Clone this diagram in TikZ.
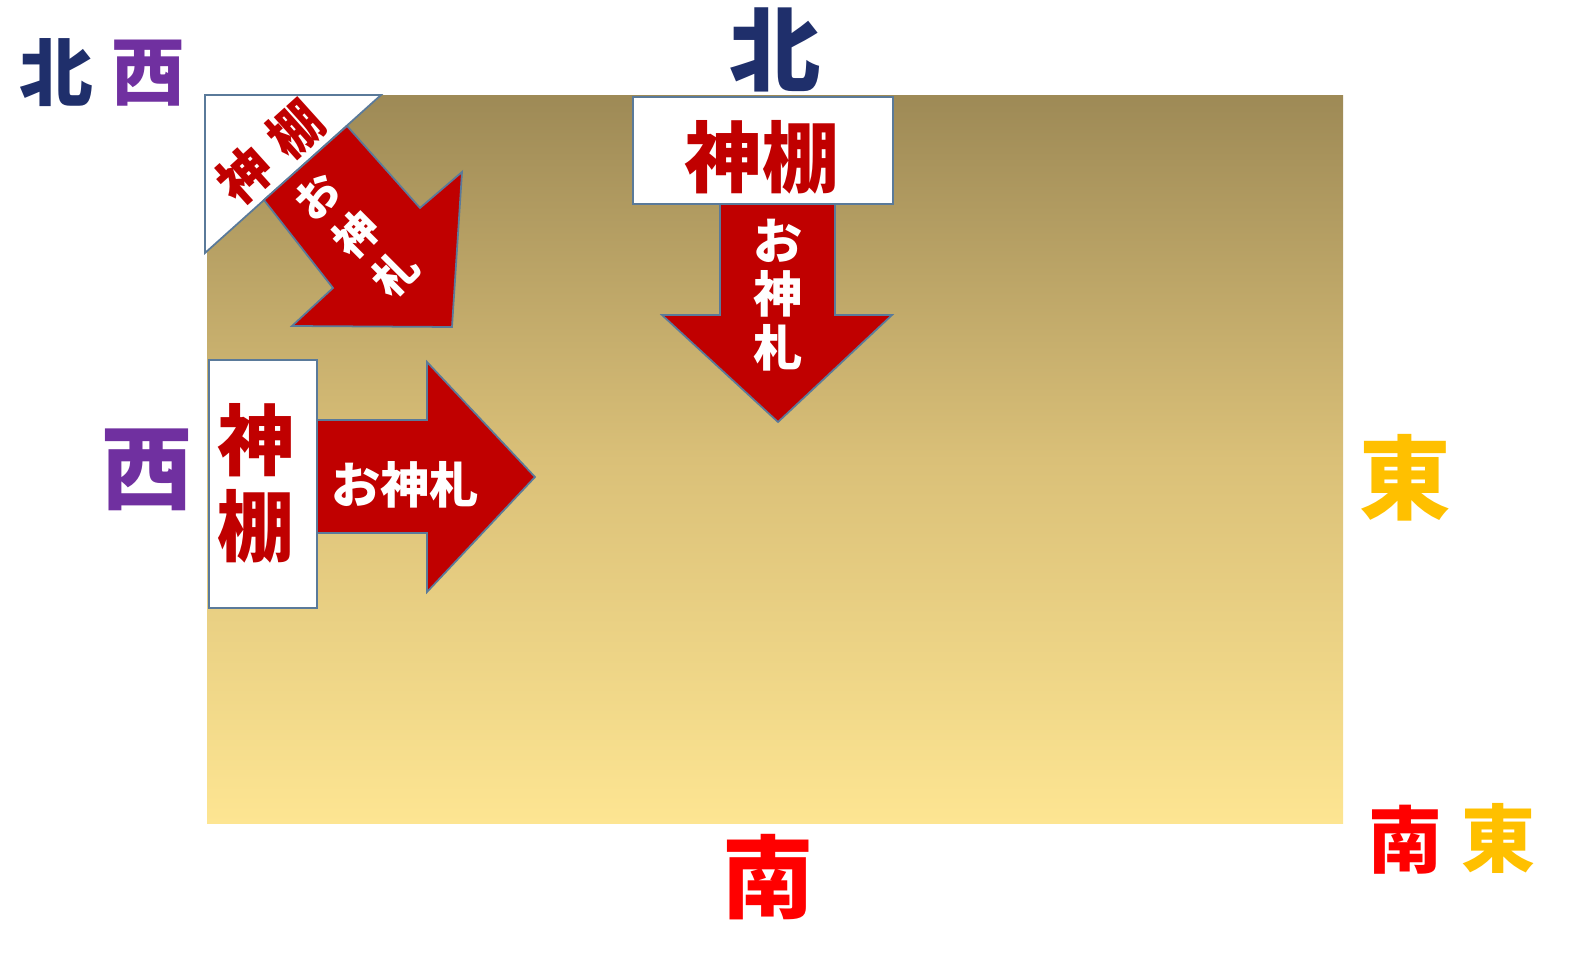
\documentclass[tikz,border=0pt]{standalone}
\usepackage{fontspec}
\newfontfamily\jp{Noto Sans CJK JP}
\definecolor{navy}{HTML}{1F2F6B}
\definecolor{westpurple}{HTML}{7030A0}
\definecolor{eastgold}{HTML}{FFC000}
\definecolor{southred}{HTML}{FF0000}
\definecolor{shelfred}{HTML}{C00000}
\definecolor{arrowred}{HTML}{C00000}
\definecolor{edge}{HTML}{5A7A9A}
\definecolor{goldtop}{HTML}{9E8A56}
\definecolor{goldmid}{HTML}{DAC078}
\definecolor{goldbot}{HTML}{FDE592}
\begin{document}
\begin{tikzpicture}[x=0.1mm,y=-0.1mm,
    bigdir/.style={inner sep=0pt, font=\jp\bfseries\fontsize{26pt}{28pt}\selectfont},
    smalldir/.style={inner sep=0pt, font=\jp\bfseries\fontsize{21pt}{23pt}\selectfont},
    shelf/.style={draw=edge, fill=white, line width=0.5pt},
    shelftext/.style={text=shelfred, inner sep=0pt, align=center, font=\jp\bfseries\fontsize{22pt}{24pt}\selectfont},
    cornertext/.style={text=shelfred, inner sep=0pt, font=\jp\bfseries\fontsize{15pt}{17pt}\selectfont},
    arrowbody/.style={draw=edge, fill=arrowred, line width=0.5pt},
    fuda/.style={text=white, inner sep=0pt, align=center, font=\jp\bfseries\fontsize{14pt}{15.2pt}\selectfont},
    cornerfuda/.style={fuda, font=\jp\bfseries\fontsize{12.5pt}{15.6pt}\selectfont},
  ]
\useasboundingbox (0,0) rectangle (1569,958);

\shade[top color=goldtop, bottom color=goldbot, middle color=goldmid] (207,96) rectangle (1343,823);

\draw[shelf] (205,95) -- (381,95) -- (205,253) -- cycle;
\draw[arrowbody] (347,126) -- (420,208) -- (462,172) -- (452,327) -- (292,326) -- (333,288) -- (264,200) -- cycle;
\node[cornertext, rotate=42] (cshelf) at (270,152) {神\hspace{0.3em}棚};
\node[cornerfuda, rotate=45] (cfuda) at (357,235) {お\\神\\札};

\draw[shelf] (633,97) rectangle (893,204);
\node[shelftext] (nshelf) at (762,157) {神棚};
\draw[arrowbody] (720,204) -- (835,204) -- (835,315) -- (892,315) -- (778,422) -- (662,315) -- (720,315) -- cycle;
\node[fuda] (nfuda) at (778,295) {お\\神\\札};

\draw[shelf] (209,360) rectangle (317,608);
\node[shelftext, font=\jp\bfseries\fontsize{22pt}{24.5pt}\selectfont] (wshelf) at (256,483) {神\\棚};
\draw[arrowbody] (317,420) -- (427,420) -- (427,362) -- (535,477) -- (427,592) -- (427,533) -- (317,533) -- cycle;
\node[fuda] (wfuda) at (405,485) {お神札};

\node[smalldir, text=navy] (nwn) at (56,73) {北};
\node[smalldir, text=westpurple] (nww) at (148,73) {西};
\node[bigdir, text=navy] (north) at (775,50) {北};
\node[bigdir, text=westpurple] (west) at (147,470) {西};
\node[bigdir, text=eastgold] (east) at (1405,478) {東};
\node[bigdir, text=southred] (south) at (768,877) {南};
\node[smalldir, text=southred] (ses) at (1405,840) {南};
\node[smalldir, text=eastgold] (see) at (1498,838) {東};
\end{tikzpicture}
\end{document}
